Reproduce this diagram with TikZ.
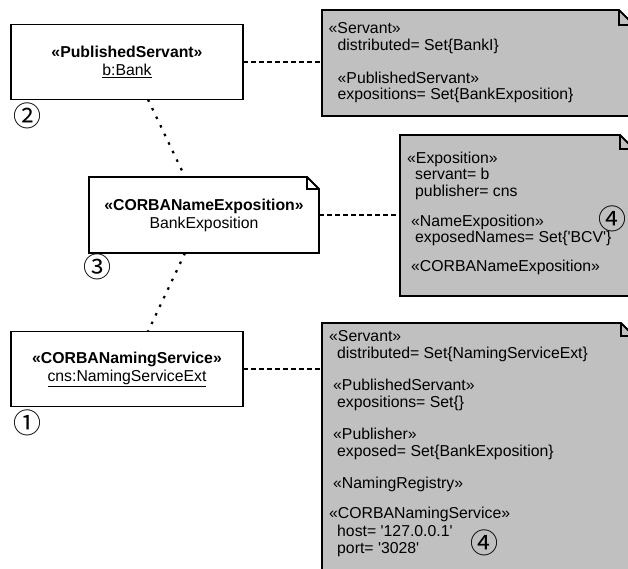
\documentclass[tikz,border=0pt]{standalone}
\usepackage{fontspec}
\setmainfont{Liberation Sans}
\newfontfamily\circfont{Noto Sans CJK SC}

\definecolor{notegray}{RGB}{192,192,192}

\tikzstyle{object} = [rectangle, draw=black, line width=1.8pt, fill=white, minimum width=232pt, minimum height=75pt, inner sep=0pt, outer sep=0pt, align=center, font=\fontsize{15.8}{18}\selectfont]
\tikzstyle{notebox} = [rectangle, inner sep=0pt, outer sep=0pt, anchor=north west]
\tikzstyle{notetext} = [anchor=north west, inner sep=0pt, align=left, font=\fontsize{15.8}{16.5}\selectfont]
\tikzstyle{numtag} = [inner sep=0pt, font=\circfont\fontsize{28}{28}\selectfont]
\tikzstyle{dashline} = [line width=1.6pt, dash pattern=on 5pt off 3pt]
\tikzstyle{dotline} = [line width=2.2pt, dash pattern=on 2.5pt off 7pt]

% outline of a note with a folded top right corner: [fill]{node}{fold size}
\newcommand{\dogear}[3][none]{%
  \filldraw[fill=#1, line width=1.8pt] (#2.south west) -- (#2.north west)
    -- ([xshift=-#3]#2.north east) -- ([yshift=-#3]#2.north east)
    -- (#2.south east) -- cycle;
  \draw[line width=1.8pt] ([xshift=-#3]#2.north east) |- ([yshift=-#3]#2.north east);}

\begin{document}
\begin{tikzpicture}[x=1pt, y=-1pt]
	\useasboundingbox (0,0) rectangle (628,568);

	\node (bank) [object] at (127,62) {\textbf{«PublishedServant»}\\\underline{b:Bank}};
	\node (expo) [object, draw=none, fill=none, minimum width=230pt, minimum height=76pt] at (204,215) {\textbf{«CORBANameExposition»}\\BankExposition};
	\dogear{expo}{12pt}
	\node (cns) [object] at (127,369) {\textbf{«CORBANamingService»}\\\underline{cns:NamingServiceExt}};

	% tagged values of the servant
	\node (srvnote) [notebox, minimum width=312pt, minimum height=106pt] at (322,10) {};
	\dogear[notegray]{srvnote}{15pt}
	\node (srvtext) [notetext] at (328.5,22.5) {«Servant»\\
		\hspace*{9pt}distributed= Set\{BankI\}\\[16.5pt]
		\hspace*{9pt}«PublishedServant»\\
		\hspace*{9pt}expositions= Set\{BankExposition\}};

	% tagged values of the exposition
	\node (exponote) [notebox, minimum width=234pt, minimum height=161pt] at (400,135) {};
	\dogear[notegray]{exponote}{14pt}
	\node (expotext) [notetext] at (407,151.5) {«Exposition»\\
		\hspace*{8pt}servant= b\\
		\hspace*{8pt}publisher= cns\\[13.5pt]
		\hspace*{4pt}«NameExposition»\\
		\hspace*{8pt}exposedNames= Set\{\textquotesingle BCV\textquotesingle\}\\[12pt]
		\hspace*{4pt}«CORBANameExposition»};

	% tagged values of the naming service
	\node (cnsnote) [notebox, minimum width=312pt, minimum height=280pt] at (322,323) {};
	\dogear[notegray]{cnsnote}{13pt}
	\node (cnstext) [notetext, font=\fontsize{15.8}{17.5}\selectfont] at (329,330) {«Servant»\\
		\hspace*{8pt}distributed= Set\{NamingServiceExt\}\\[14pt]
		\hspace*{4pt}«PublishedServant»\\
		\hspace*{8pt}expositions= Set\{\}\\[14pt]
		\hspace*{4pt}«Publisher»\\
		\hspace*{8pt}exposed= Set\{BankExposition\}\\[14pt]
		\hspace*{4pt}«NamingRegistry»\\[13pt]
		«CORBANamingService»\\
		\hspace*{8pt}host= \textquotesingle 127.0.0.1\textquotesingle\\
		\hspace*{8pt}port= \textquotesingle 3028\textquotesingle};

	\node (tag2) [numtag] at (27,116) {②};
	\node (tag3) [numtag] at (97,267) {③};
	\node (tag1) [numtag] at (27,423) {①};
	\node (tag4a) [numtag] at (612,219) {④};
	\node (tag4b) [numtag] at (484,543) {④};

	\draw [dashline] (bank.east) -- (bank.east -| srvnote.west);
	\draw [dashline] (expo.east) -- (expo.east -| exponote.west);
	\draw [dashline] (cns.east) -- (cns.east -| cnsnote.west);
	\draw [dotline] ([xshift=21pt]bank.south) -- ([xshift=-19pt]expo.north);
	\draw [dotline] ([xshift=-19pt]expo.south) -- ([xshift=21pt]cns.north);
\end{tikzpicture}
\end{document}
